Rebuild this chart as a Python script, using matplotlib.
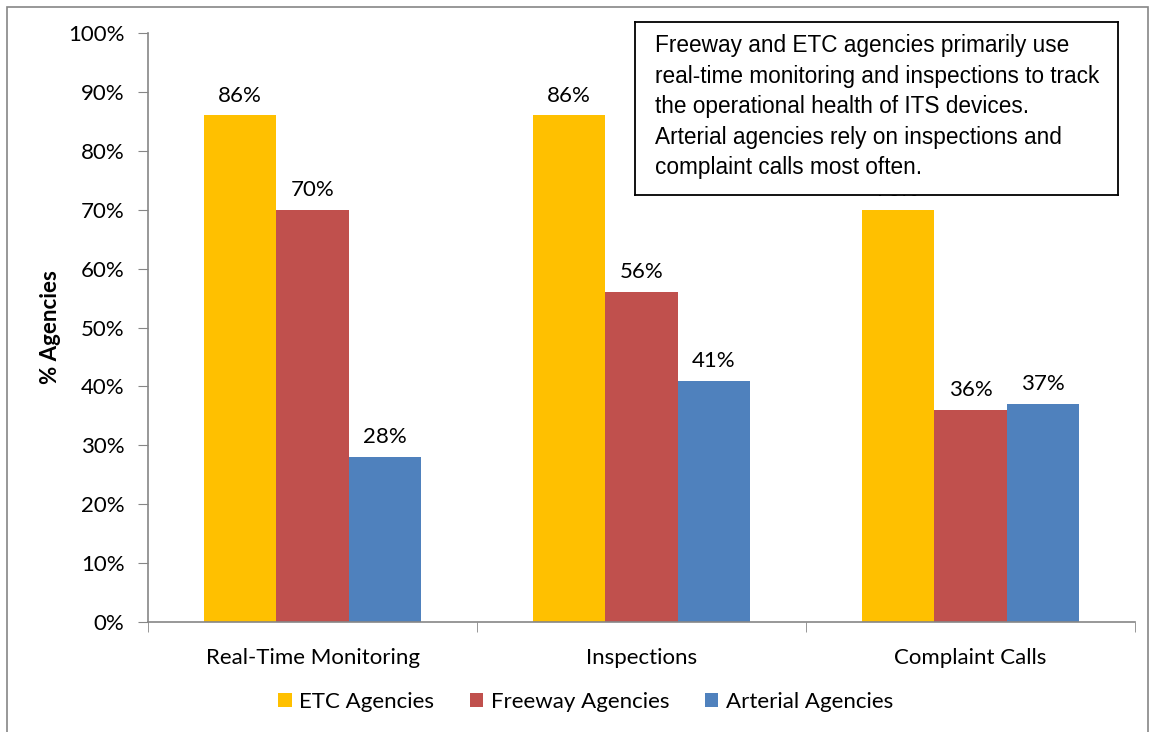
import numpy as np
import matplotlib.pyplot as plt
from matplotlib.patches import Rectangle
from matplotlib.ticker import PercentFormatter

categories = ['Real-Time Monitoring', 'Inspections', 'Complaint Calls']
series = ['ETC Agencies', 'Freeway Agencies', 'Arterial Agencies']
etc_vals = [86, 86, 70]
freeway_vals = [70, 56, 36]
arterial_vals = [28, 41, 37]
colors = ['#FFC000', '#C0504D', '#4F81BD']

note = ('Freeway and ETC agencies primarily use\n'
        'real-time monitoring and inspections to track\n'
        'the operational health of ITS devices.\n'
        'Arterial agencies rely on inspections and\n'
        'complaint calls most often.')

plt.rcParams['font.family'] = ['Lato', 'DejaVu Sans']
fs = 16

fig = plt.figure(figsize=(11.51, 7.32), dpi=100)
ax = fig.add_axes([148 / 1151, 1 - 622 / 732, (1135 - 148) / 1151, (622 - 33) / 732])

x = np.arange(len(categories))
width = 0.22
for i, (vals, name, c) in enumerate(zip([etc_vals, freeway_vals, arterial_vals], series, colors)):
    bars = ax.bar(x + (i - 1) * width, vals, width, color=c, label=name, zorder=2)
    for b, v in zip(bars, vals):
        ax.annotate('%d%%' % v, (b.get_x() + b.get_width() / 2, v),
                    xytext=(0, 7), textcoords='offset points',
                    ha='center', va='bottom', fontsize=fs, zorder=1)

ax.set_xlim(-0.5, 2.5)
ax.set_ylim(0, 100)
ax.set_yticks(range(0, 101, 10))
ax.yaxis.set_major_formatter(PercentFormatter(decimals=0))
ax.set_xticks(x)
ax.set_xticklabels(categories)
ax.set_xticks([-0.5, 0.5, 1.5, 2.5], minor=True)
ax.tick_params(axis='x', which='major', length=0, pad=19, labelsize=fs)
ax.tick_params(axis='x', which='minor', length=7, color='#868686', direction='out')
ax.tick_params(axis='y', length=7, color='#868686', labelsize=fs, pad=10)
for side in ['top', 'right']:
    ax.spines[side].set_visible(False)
for side in ['left', 'bottom']:
    ax.spines[side].set_color('#868686')
    ax.spines[side].set_linewidth(1.2)
ax.set_ylabel('% Agencies', fontsize=fs, fontweight='bold', labelpad=5)

# note box in the upper right, drawn over the plot
box_ax = fig.add_axes([635 / 1151, 1 - 195 / 732, (1118 - 635) / 1151, (195 - 22) / 732])
box_ax.set_xticks([])
box_ax.set_yticks([])
box_ax.set_facecolor('white')
for s in box_ax.spines.values():
    s.set_linewidth(1.3)
    s.set_color('black')
box_ax.text(0.042, 0.51, note, transform=box_ax.transAxes, ha='left', va='center',
            fontsize=16.3, family=['Liberation Sans'], linespacing=1.42)

handles, labels = ax.get_legend_handles_labels()
fig.legend(handles, labels, loc='center', bbox_to_anchor=(0.509, 0.041), ncol=3,
           frameon=False, fontsize=fs, handlelength=0.6, handleheight=0.6,
           handletextpad=0.35, columnspacing=1.6)

# outer chart border
fig.patches.append(Rectangle((7 / 1151, -0.01), (1148 - 7) / 1151, 1 - 7 / 732 + 0.01,
                             transform=fig.transFigure, fill=False,
                             edgecolor='#868686', linewidth=1.2))

fig.savefig('out.png', dpi=100)
